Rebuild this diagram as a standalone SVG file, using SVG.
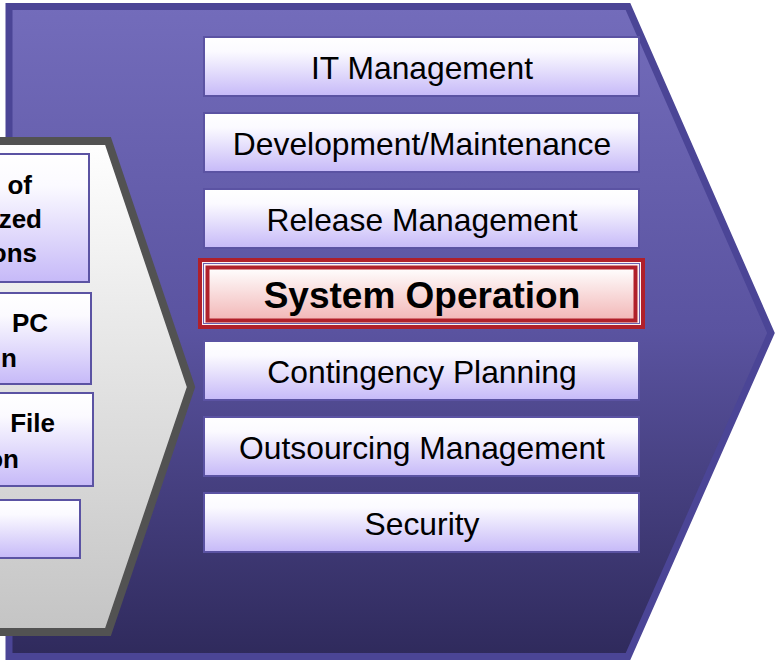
<svg xmlns="http://www.w3.org/2000/svg" width="776" height="663" viewBox="0 0 776 663">
<defs>
<linearGradient id="gBig" x1="0" y1="0" x2="0" y2="1">
<stop offset="0" stop-color="#736cbb"/>
<stop offset="0.5" stop-color="#5a53a0"/>
<stop offset="1" stop-color="#2f2a5c"/>
</linearGradient>
<linearGradient id="gGray" x1="0" y1="0" x2="0" y2="1">
<stop offset="0" stop-color="#ffffff"/>
<stop offset="1" stop-color="#c4c4c4"/>
</linearGradient>
<linearGradient id="gBox" x1="0" y1="0" x2="0" y2="1">
<stop offset="0" stop-color="#ffffff"/>
<stop offset="0.25" stop-color="#fbfaff"/>
<stop offset="1" stop-color="#c6b9f8"/>
</linearGradient>
<linearGradient id="gRed" x1="0" y1="0" x2="0" y2="1">
<stop offset="0" stop-color="#ffffff"/>
<stop offset="1" stop-color="#f2b6b6"/>
</linearGradient>
</defs>
<style>
.box{fill:url(#gBox);stroke:#5b53a3;stroke-width:2}
.t{font-family:"Liberation Sans",Arial,sans-serif;font-size:31.8px;fill:#000;text-anchor:middle}
.tb{font-family:"Liberation Sans",Arial,sans-serif;font-size:26px;font-weight:bold;fill:#000;text-anchor:end}
</style>
<g id="big-arrow">
<polygon points="9,6.5 628,6.5 771,333 628,656.5 9,656.5" fill="url(#gBig)" stroke="#4b4596" stroke-width="7" stroke-linejoin="miter"/>
</g>
<g id="gray-arrow">
<polygon points="-20,141 108,141 191,387 108,632 -20,632" fill="url(#gGray)" stroke="#525252" stroke-width="8"/>
</g>
<g id="left1">
<rect class="box" x="-20" y="154" width="109" height="128"/>
<text class="tb" x="32" y="194">of</text>
<text class="tb" x="42" y="228">zed</text>
<text class="tb" x="37" y="262">ons</text>
</g>
<g id="left2">
<rect class="box" x="-20" y="293" width="111" height="91"/>
<text class="tb" x="48" y="332">PC</text>
<text class="tb" x="17" y="367">n</text>
</g>
<g id="left3">
<rect class="box" x="-20" y="393" width="113" height="93"/>
<text class="tb" x="55" y="432">File</text>
<text class="tb" x="19" y="468">on</text>
</g>
<g id="left4">
<rect class="box" x="-20" y="500" width="100" height="58"/>
</g>
<g id="it-management">
<rect class="box" x="204" y="37" width="435" height="59"/>
<text class="t" x="422" y="79">IT Management</text>
</g>
<g id="development">
<rect class="box" x="204" y="113" width="435" height="59"/>
<text class="t" x="422" y="155">Development/Maintenance</text>
</g>
<g id="release">
<rect class="box" x="204" y="189" width="435" height="59"/>
<text class="t" x="422" y="231">Release Management</text>
</g>
<g id="system-operation">
<rect x="200" y="260" width="443" height="67" fill="#fdf2f2" stroke="#b0202a" stroke-width="4"/>
<rect x="203.5" y="263.5" width="436" height="60" fill="none" stroke="#6a62b0" stroke-width="1"/>
<rect x="207.5" y="267.5" width="428" height="53" fill="url(#gRed)" stroke="#b0202a" stroke-width="4"/>
<text x="422" y="308" font-family="'Liberation Sans',Arial,sans-serif" font-size="37" font-weight="bold" text-anchor="middle" fill="#000">System Operation</text>
</g>
<g id="contingency">
<rect class="box" x="204" y="341" width="435" height="59"/>
<text class="t" x="422" y="383">Contingency Planning</text>
</g>
<g id="outsourcing">
<rect class="box" x="204" y="417" width="435" height="59"/>
<text class="t" x="422" y="459">Outsourcing Management</text>
</g>
<g id="security">
<rect class="box" x="204" y="493" width="435" height="59"/>
<text class="t" x="422" y="535">Security</text>
</g>
<g id="connectors"/>
</svg>
